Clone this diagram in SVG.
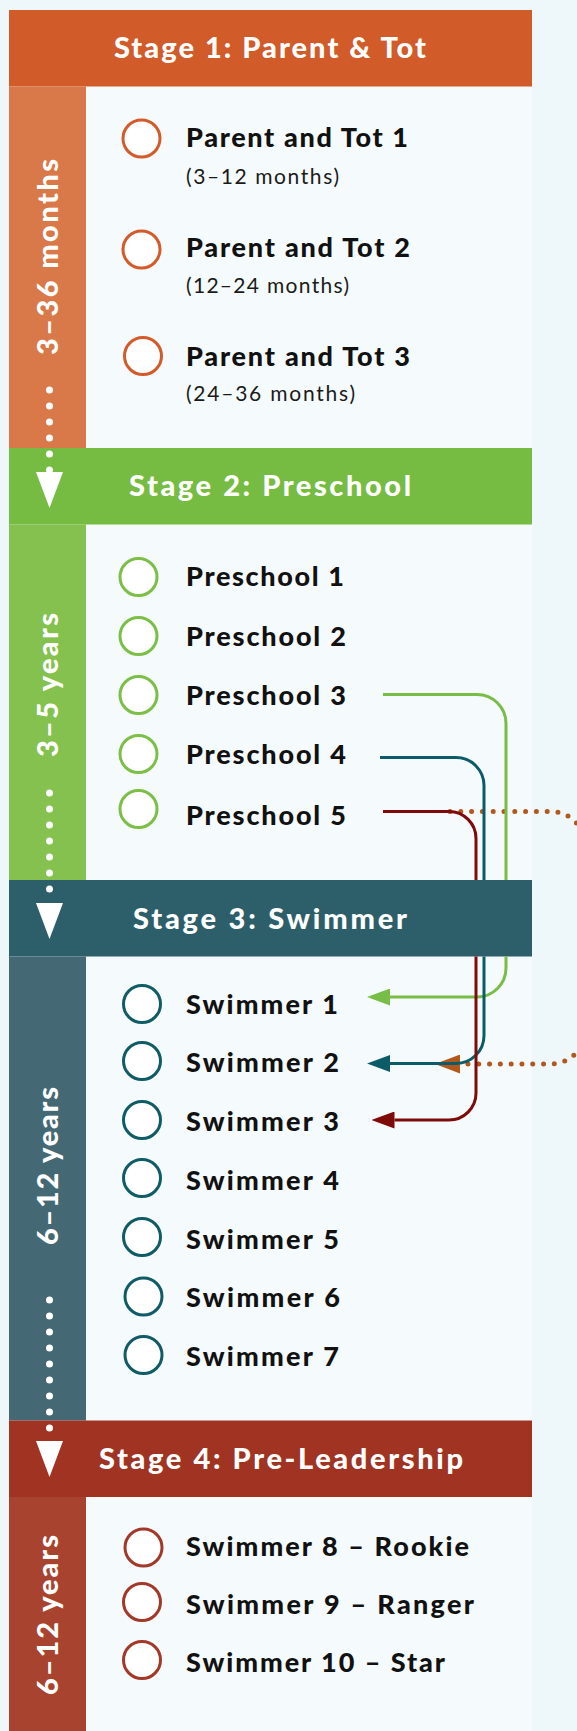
<svg xmlns="http://www.w3.org/2000/svg" width="577" height="1731" viewBox="0 0 577 1731">
<style>
text{font-family:Lato,"Open Sans","Liberation Sans",sans-serif}
.hd{font-weight:900;font-size:29px;fill:#fff}
.bt{font-weight:900;font-size:29px;fill:#fff}
.it{font-weight:900;font-size:27px;fill:#111}
.sb{font-weight:400;font-size:21px;fill:#1a1a1a}
.c1{fill:#fff;stroke:#d35b2a;stroke-width:3}
.c2{fill:#fff;stroke:#7bbf46;stroke-width:3}
.c3{fill:#fff;stroke:#0f5b66;stroke-width:3}
.c4{fill:#fff;stroke:#a33828;stroke-width:3}
.wd{fill:none;stroke:#fff;stroke-width:7;stroke-linecap:round;stroke-dasharray:0 16}
.ln{fill:none;stroke-width:3}
</style>
<defs>
<marker id="mw" markerUnits="userSpaceOnUse" viewBox="0 0 36 27" refX="0" refY="13.5" markerWidth="36" markerHeight="27" orient="auto"><path d="M0,0L36,13.5L0,27Z" fill="#fff"/></marker>
<marker id="mg" markerUnits="userSpaceOnUse" viewBox="0 0 23 17" refX="0" refY="8.5" markerWidth="23" markerHeight="17" orient="auto"><path d="M0,0L23,8.5L0,17Z" fill="#78bd45"/></marker>
<marker id="mt" markerUnits="userSpaceOnUse" viewBox="0 0 23 17" refX="0" refY="8.5" markerWidth="23" markerHeight="17" orient="auto"><path d="M0,0L23,8.5L0,17Z" fill="#0b5c68"/></marker>
<marker id="mr" markerUnits="userSpaceOnUse" viewBox="0 0 23 17" refX="0" refY="8.5" markerWidth="23" markerHeight="17" orient="auto"><path d="M0,0L23,8.5L0,17Z" fill="#7f0a0a"/></marker>
<marker id="mo" markerUnits="userSpaceOnUse" viewBox="0 0 25 19" refX="0" refY="9.5" markerWidth="25" markerHeight="19" orient="auto"><path d="M0,0L25,9.5L0,19Z" fill="#b3581c"/></marker>
<clipPath id="noh3"><path clip-rule="evenodd" d="M0 0H600V1731H0Z M9 880H532V956.5H9Z"/></clipPath>
</defs>
<rect x="0" y="0" width="577" height="1731" fill="#eef7fa"/>
<rect x="86" y="86" width="446" height="1645" fill="#f5fafc"/>

<g id="stage1">
<rect x="9" y="10" width="523" height="76.5" fill="#d15b29"/>
<rect x="9" y="86.5" width="77" height="361.5" fill="#d97848"/>
<text class="hd" x="114" y="58" textLength="312" lengthAdjust="spacing">Stage 1: Parent &amp; Tot</text>
<text class="bt" transform="translate(58,355) rotate(-90)" textLength="196" lengthAdjust="spacing">3–36 months</text>
</g>
<g id="stage2">
<rect x="9" y="448" width="523" height="76.5" fill="#77bc42"/>
<rect x="9" y="524.5" width="77" height="355.5" fill="#84c14f"/>
<text class="hd" x="129" y="496" textLength="282" lengthAdjust="spacing">Stage 2: Preschool</text>
<text class="bt" transform="translate(58,757) rotate(-90)" textLength="144" lengthAdjust="spacing">3–5 years</text>
</g>
<g id="stage3">
<rect x="9" y="880" width="523" height="76.5" fill="#2d5f6b"/>
<rect x="9" y="956.5" width="77" height="464" fill="#446874"/>
<text class="hd" x="133" y="928.5" textLength="274" lengthAdjust="spacing">Stage 3: Swimmer</text>
<text class="bt" transform="translate(58,1245) rotate(-90)" textLength="158" lengthAdjust="spacing">6–12 years</text>
</g>
<g id="stage4">
<rect x="9" y="1420.5" width="523" height="76.5" fill="#a03322"/>
<rect x="9" y="1497" width="77" height="234" fill="#a8432f"/>
<text class="hd" x="99" y="1469" textLength="364" lengthAdjust="spacing">Stage 4: Pre-Leadership</text>
<text class="bt" transform="translate(58,1695) rotate(-90)" textLength="160" lengthAdjust="spacing">6–12 years</text>
</g>

<g id="pt1"><circle class="c1" cx="141.5" cy="138.5" r="18.5"/><text class="it" x="186" y="147" textLength="222" lengthAdjust="spacing">Parent and Tot 1</text><text class="sb" x="186" y="184" textLength="153" lengthAdjust="spacing">(3–12 months)</text></g>
<g id="pt2"><circle class="c1" cx="141.5" cy="249.5" r="18.5"/><text class="it" x="186" y="257" textLength="224" lengthAdjust="spacing">Parent and Tot 2</text><text class="sb" x="186" y="292.5" textLength="163" lengthAdjust="spacing">(12–24 months)</text></g>
<g id="pt3"><circle class="c1" cx="143" cy="356" r="18.5"/><text class="it" x="186" y="366" textLength="224" lengthAdjust="spacing">Parent and Tot 3</text><text class="sb" x="186" y="401" textLength="169" lengthAdjust="spacing">(24–36 months)</text></g>

<g id="ps1"><circle class="c2" cx="138.5" cy="577" r="18.5"/><text class="it" x="186" y="586" textLength="158" lengthAdjust="spacing">Preschool 1</text></g>
<g id="ps2"><circle class="c2" cx="138.5" cy="636" r="18.5"/><text class="it" x="186" y="646" textLength="160" lengthAdjust="spacing">Preschool 2</text></g>
<g id="ps3"><circle class="c2" cx="138.5" cy="695" r="18.5"/><text class="it" x="186" y="705" textLength="160" lengthAdjust="spacing">Preschool 3</text></g>
<g id="ps4"><circle class="c2" cx="138.5" cy="754" r="18.5"/><text class="it" x="186" y="764" textLength="160" lengthAdjust="spacing">Preschool 4</text></g>
<g id="ps5"><circle class="c2" cx="138.5" cy="809" r="18.5"/><text class="it" x="186" y="825" textLength="160" lengthAdjust="spacing">Preschool 5</text></g>

<g id="sw1"><circle class="c3" cx="142" cy="1004" r="18.5"/><text class="it" x="186" y="1014" textLength="152" lengthAdjust="spacing">Swimmer 1</text></g>
<g id="sw2"><circle class="c3" cx="142" cy="1061" r="18.5"/><text class="it" x="186" y="1072" textLength="153" lengthAdjust="spacing">Swimmer 2</text></g>
<g id="sw3"><circle class="c3" cx="142" cy="1120" r="18.5"/><text class="it" x="186" y="1131" textLength="153" lengthAdjust="spacing">Swimmer 3</text></g>
<g id="sw4"><circle class="c3" cx="142" cy="1178" r="18.5"/><text class="it" x="186" y="1190" textLength="153" lengthAdjust="spacing">Swimmer 4</text></g>
<g id="sw5"><circle class="c3" cx="142" cy="1237" r="18.5"/><text class="it" x="186" y="1249" textLength="153" lengthAdjust="spacing">Swimmer 5</text></g>
<g id="sw6"><circle class="c3" cx="143.5" cy="1296.5" r="18.5"/><text class="it" x="186" y="1307" textLength="154" lengthAdjust="spacing">Swimmer 6</text></g>
<g id="sw7"><circle class="c3" cx="143.5" cy="1355" r="18.5"/><text class="it" x="186" y="1366" textLength="153" lengthAdjust="spacing">Swimmer 7</text></g>

<g id="sw8"><circle class="c4" cx="143.5" cy="1547.5" r="18.5"/><text class="it" x="186" y="1555.5" textLength="283" lengthAdjust="spacing">Swimmer 8 – Rookie</text></g>
<g id="sw9"><circle class="c4" cx="142" cy="1602" r="18.5"/><text class="it" x="186" y="1613.5" textLength="288" lengthAdjust="spacing">Swimmer 9 – Ranger</text></g>
<g id="sw10"><circle class="c4" cx="142" cy="1660" r="18.5"/><text class="it" x="186" y="1672" textLength="259" lengthAdjust="spacing">Swimmer 10 – Star</text></g>

<g id="connectors">
<path class="wd" d="M49.5 390V472" marker-end="url(#mw)"/>
<path class="wd" d="M49.5 793V903" marker-end="url(#mw)"/>
<path class="wd" d="M49.5 1300V1441" marker-end="url(#mw)"/>
<g clip-path="url(#noh3)">
<path fill="none" stroke="#b3581c" stroke-width="5" stroke-linecap="round" stroke-dasharray="0 10.8" d="M450 811.5H551A34 34 0 0 1 585 845.5V1030A34 34 0 0 1 551 1064H460" marker-end="url(#mo)"/>
<path class="ln" stroke="#78bd45" d="M383 694.5H477A29 29 0 0 1 506 723.5V968A29 29 0 0 1 477 997H390" marker-end="url(#mg)"/>
<path class="ln" stroke="#0b5c68" d="M380 757.5H456A28 28 0 0 1 484 785.5V1035.5A28 28 0 0 1 456 1063.5H390" marker-end="url(#mt)"/>
<path class="ln" stroke="#7f0a0a" d="M383 811.5H449A27 27 0 0 1 476 838.5V1093A27 27 0 0 1 449 1120H394.5" marker-end="url(#mr)"/>
</g>
</g>
</svg>
